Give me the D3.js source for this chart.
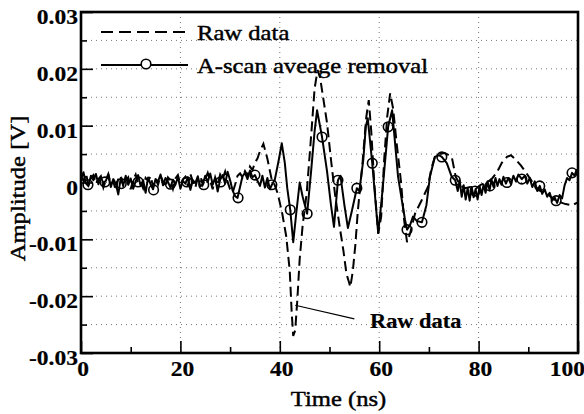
<!DOCTYPE html>
<html><head><meta charset="utf-8">
<script src="https://cdn.jsdelivr.net/npm/d3@7"></script>
<style>html,body{margin:0;padding:0;background:#fff;}svg{display:block;}
svg text{font-family:"Liberation Serif","Times New Roman",Tinos,Times,"DejaVu Serif",serif;}</style>
</head><body>
<div id="chart"></div>
<script>
// ---------------- DATA ----------------
const xTicks = [0, 20, 40, 60, 80, 100];
const xMinorTicks = [10, 30, 50, 70, 90];
const yTicks = [-0.03, -0.02, -0.01, 0, 0.01, 0.02, 0.03];
const yTickLabels = ["-0.03", "-0.02", "-0.01", "0", "0.01", "0.02", "0.03"];
const yMinorTicks = [-0.025, -0.015, -0.005, 0.005, 0.015, 0.025];
const seriesNames = ["Raw data", "A-scan aveage removal"];

// processed (solid) : noise part sampled every 0.5 ns from t = 0
const noiseStep = 0.5;
const solidNoise = [
  0.0005, 0.0018, -0.0002, -0.0006, 0.0012, 0.0004, 0.0015, -0.0003, 0.0009, -0.0001,
  0.0003, 0.0014, -0.0008, 0.0006, -0.0002, -0.0021, 0.0008, -0.0005, 0.0012, -0.0004,
  0.0007, -0.0011, 0.0002, 0.0013, -0.0006, 0.0004, -0.0018, 0.0009, -0.0003, -0.0012,
  0.0006, 0.0002, 0.0014, -0.0005, 0.0008, 0.0001, -0.0009, 0.0005, -0.0004, 0.0010,
  -0.0011, 0.0003, -0.0002, 0.0009, -0.0013, 0.0004, -0.0001, 0.0011, -0.0007, -0.0003,
  0.0012, 0.0001, 0.0016, -0.0004, 0.0008, -0.0016, 0.0005, 0.0013, -0.0002, 0.0019,
  0.0004, -0.0014, -0.0024, -0.0027, -0.0008, 0.0011, 0.0017, 0.0006, 0.0021, 0.0009,
  0.0013, 0.0003, -0.0006, 0.0012, -0.0009, 0.0008, -0.0012
];
const solidMain = [
  [38.4, -0.0004], [39.0, 0.0005], [39.8, 0.004], [40.4, 0.0069], [41.0, 0.0035], [41.5, -0.001],
  [42.1, -0.0048], [42.7, -0.0105], [43.3, -0.0055], [44.0, 0.0], [44.6, -0.0025], [45.5, -0.0055],
  [46.3, 0.002], [47.0, 0.009], [47.5, 0.0127], [48.5, 0.008], [49.5, 0.002], [50.3, -0.004],
  [50.9, -0.0078], [51.7, 0.0004], [52.2, 0.0012], [53.0, -0.004], [53.7, -0.008], [54.5, -0.005],
  [55.5, -0.001], [56.0, -0.0015], [56.8, 0.004], [57.3, 0.0098], [57.7, 0.0113], [58.6, 0.0034],
  [59.8, -0.0089], [60.6, -0.002], [61.8, 0.0098], [62.6, 0.0127], [63.8, 0.001], [65.2, -0.0066],
  [65.6, -0.0083], [66.2, -0.0075], [66.8, -0.006], [67.6, -0.0068], [68.6, -0.007], [69.5, -0.004],
  [70.2, 0.001], [71.2, 0.0045], [72.0, 0.0048], [72.6, 0.0045], [73.6, 0.0034], [74.6, 0.001],
  [75.3, 0.0004], [75.8, -0.0015], [76.2, 0.0003], [76.6, -0.0025], [77.0, -0.0005], [77.4, -0.003],
  [77.8, -0.001], [78.2, -0.0032], [78.6, -0.0008], [79.0, -0.0026], [79.4, -0.0012], [79.8, -0.003],
  [80.2, -0.0006], [80.6, -0.0022], [81.0, -0.0004], [81.4, -0.0018], [81.8, 0.0002], [82.2, -0.0014],
  [82.6, 0.0005], [83.0, -0.0008], [83.4, 0.0008], [83.8, -0.0006], [84.2, 0.0006], [84.6, -0.0004],
  [85.0, 0.001], [85.5, -0.0002], [86.0, 0.0008], [86.5, -0.0003], [87.0, 0.0012], [87.5, 0.0002],
  [88.0, 0.0014], [88.7, 0.0006], [89.3, 0.0012], [89.8, -0.0002], [90.3, 0.0008], [90.8, -0.0008],
  [91.3, 0.0002], [91.8, -0.0015], [92.3, -0.0006], [92.8, -0.002], [93.3, -0.0012], [93.8, -0.0025],
  [94.3, -0.0018], [94.8, -0.0032], [95.3, -0.0026], [95.8, -0.0036], [96.3, -0.0022], [96.8, -0.0028],
  [97.3, -0.0005], [97.8, 0.0008], [98.3, 0.0004], [98.8, 0.0017], [99.3, 0.0012], [99.7, 0.0022],
  [100, 0.002]
];
// raw (dashed): noise part sampled every 0.5 ns from t = 0
const rawNoise = [
  0.0010, 0.0003, 0.0016, -0.0004, 0.0008, 0.0013, -0.0002, 0.0006, 0.0011, -0.0009,
  0.0004, 0.0015, -0.0003, 0.0002, -0.0014, 0.0007, 0.0012, -0.0006, 0.0003, 0.0009,
  -0.0012, 0.0005, 0.0014, -0.0002, 0.0001, -0.0010, 0.0008, 0.0003, 0.0011, -0.0007,
  0.0006, -0.0004, 0.0012, 0.0002, -0.0008, 0.0009, 0.0004, -0.0011, 0.0007, 0.0013,
  -0.0003, 0.0005, 0.0010, -0.0006, 0.0015, 0.0002, -0.0009, 0.0008, 0.0012, -0.0004,
  0.0006, 0.0017, 0.0003, -0.0012, 0.0009, -0.0005, 0.0014, 0.0006, 0.0019, 0.0001,
  -0.0012, -0.0018, -0.0004, 0.0012, 0.0016, 0.0009
];
const rawMain = [
  [33.0, 0.002], [33.5, 0.0012], [34.0, 0.0028], [34.5, 0.0022], [35.0, 0.0035], [35.5, 0.0042],
  [36.0, 0.0055], [36.7, 0.0068], [37.5, 0.0042], [38.3, 0.0008], [39.0, -0.0005], [39.6, -0.002],
  [40.5, -0.0055], [41.3, -0.0095], [42.0, -0.0155], [42.4, -0.023], [42.7, -0.027], [43.1, -0.026],
  [43.5, -0.021], [44.0, -0.0135], [44.6, -0.0075], [45.4, -0.002], [46.2, 0.007], [47.0, 0.0165],
  [47.6, 0.0198], [48.1, 0.0185], [48.8, 0.0145], [49.5, 0.0105], [50.3, 0.004], [51.1, -0.002],
  [52.0, -0.0075], [52.8, -0.012], [53.4, -0.016], [54.2, -0.0184], [54.7, -0.0155], [55.2, -0.011],
  [55.7, -0.005], [56.6, 0.003], [57.4, 0.0115], [57.9, 0.0145], [58.4, 0.009], [59.0, 0.0],
  [59.8, -0.009], [60.4, -0.006], [61.0, 0.004], [61.6, 0.0115], [62.2, 0.0157], [62.8, 0.013],
  [63.5, 0.007], [64.4, 0.0], [65.0, -0.0065], [65.6, -0.0105], [66.2, -0.009], [67.2, -0.0055],
  [68.5, -0.0032], [69.8, -0.0008], [70.5, 0.0025], [71.2, 0.0045], [72.0, 0.005], [73.2, 0.0052],
  [74.6, 0.0045], [75.4, 0.001], [76.3, -0.0005], [77.2, -0.001], [78.3, -0.0008], [79.3, -0.0012],
  [80.4, -0.0004], [81.7, 0.0], [82.8, 0.0008], [83.7, 0.0018], [84.7, 0.0035], [85.7, 0.0045],
  [86.5, 0.0048], [87.5, 0.004], [88.5, 0.003], [89.5, 0.0018], [90.5, 0.0005], [91.5, -0.0008],
  [92.5, -0.0015], [93.5, -0.0018], [94.5, -0.0025], [95.5, -0.0032], [96.5, -0.0035], [97.5, -0.0038],
  [98.8, -0.004], [100, -0.0035]
];
// circle markers on the processed curve
const markers = [
  [1.4, -0.0004], [4.8, 0.0001], [8.1, -0.0002], [11.5, 0.0001], [14.6, -0.0013], [18.0, -0.0003],
  [21.3, 0.0001], [24.7, -0.0004], [28.1, 0.0001], [31.6, -0.0027], [35.0, 0.0013], [38.4, -0.0004],
  [42.1, -0.0048], [45.5, -0.0055], [48.5, 0.008], [51.7, 0.0004], [55.5, -0.001], [58.6, 0.0034],
  [61.8, 0.0098], [65.6, -0.0083], [68.6, -0.007], [72.6, 0.0045], [75.3, 0.0004], [79.3, -0.0015],
  [82.3, -0.0006], [85.7, 0.0], [88.7, 0.0006], [92.3, -0.0006], [95.6, -0.0032], [98.8, 0.0017]
];
// annotation "Raw data" pointer (data coords of the leader line)
const annotText = "Raw data";
const annotFrom = [43.1, -0.0216];
const annotTo = [55.0, -0.0240];

// ---------------- BUILD ----------------
const solid = solidNoise.map((v, i) => [i * noiseStep, v]).concat(solidMain);
const raw = rawNoise.map((v, i) => [i * noiseStep, v]).concat(rawMain);

const W = 584, H = 414;
const M = {left: 81, right: 6, top: 12, bottom: 61};
const SX = 1.12; // horizontal stretch of text in the scan

const svg = d3.select("#chart").append("svg").attr("width", W).attr("height", H);
const x = d3.scaleLinear().domain([0, 100]).range([M.left, W - M.right]);
const y = d3.scaleLinear().domain([-0.03, 0.03]).range([H - M.bottom, M.top]);

function txt(g, s, px, py, size, weight, anchor, rot) {
  return g.append("text")
    .attr("transform", `translate(${px},${py})` + (rot ? ` rotate(${rot})` : "") + ` scale(${SX},1)`)
    .style("font-size", size + "px").style("font-weight", weight)
    .attr("stroke", "#000").attr("stroke-width", weight === "bold" ? 0.2 : 0.45)
    .attr("text-anchor", anchor).attr("fill", "#000").text(s);
}

// grid
const grid = svg.append("g").attr("stroke", "#777").attr("stroke-width", 1).attr("stroke-dasharray", "1,4");
grid.selectAll("line.h").data(yTicks.concat(yMinorTicks).filter(v => v > -0.03 && v < 0.03)).join("line")
  .attr("x1", x(0)).attr("x2", x(100)).attr("y1", d => y(d)).attr("y2", d => y(d));
grid.selectAll("line.v").data(xTicks.filter(v => v > 0 && v < 100)).join("line")
  .attr("y1", y(-0.03)).attr("y2", y(0.03)).attr("x1", d => x(d)).attr("x2", d => x(d));

// clip
svg.append("clipPath").attr("id", "clip").append("rect")
  .attr("x", x(0)).attr("y", y(0.03)).attr("width", x(100) - x(0)).attr("height", y(-0.03) - y(0.03));

const line = d3.line().x(d => x(d[0])).y(d => y(d[1]));
const plot = svg.append("g").attr("clip-path", "url(#clip)");
plot.append("path").datum(raw).attr("d", line).attr("fill", "none").attr("stroke", "#000")
  .attr("stroke-width", 2).attr("stroke-dasharray", "10,5");
plot.append("path").datum(solid).attr("d", line).attr("fill", "none").attr("stroke", "#000")
  .attr("stroke-width", 2).attr("stroke-linejoin", "round");
plot.selectAll("circle").data(markers).join("circle")
  .attr("cx", d => x(d[0])).attr("cy", d => y(d[1])).attr("r", 4.8)
  .attr("fill", "none").attr("stroke", "#000").attr("stroke-width", 1.6);

// axes: inward ticks
const xAxis = d3.axisBottom(x).tickValues(xTicks).tickSize(-12).tickFormat("");
const xAxisMinor = d3.axisBottom(x).tickValues(xMinorTicks).tickSize(-6).tickFormat("");
const yAxis = d3.axisLeft(y).tickValues(yTicks).tickSize(-12).tickFormat("");
const yAxisMinor = d3.axisLeft(y).tickValues(yMinorTicks).tickSize(-6).tickFormat("");
[[xAxis, `translate(0,${y(-0.03)})`], [xAxisMinor, `translate(0,${y(-0.03)})`],
 [yAxis, `translate(${x(0)},0)`], [yAxisMinor, `translate(${x(0)},0)`]].forEach(([ax, tr]) => {
  const g = svg.append("g").attr("transform", tr).call(ax);
  g.select(".domain").remove();
  g.selectAll(".tick line").attr("stroke", "#000").attr("stroke-width", 1.6);
});

// frame
svg.append("rect").attr("x", x(0)).attr("y", y(0.03)).attr("width", x(100) - x(0))
  .attr("height", y(-0.03) - y(0.03)).attr("fill", "none").attr("stroke", "#000").attr("stroke-width", 2.6);

// tick labels
xTicks.forEach((t, i) => {
  const last = i === xTicks.length - 1;
  txt(svg, String(t), last ? W + 1 : x(t) + 2, 376, 21, "bold", last ? "end" : "middle");
});
yTicks.forEach((t, i) => {
  txt(svg, yTickLabels[i], x(0) - 3, y(t) + 12, 21, "bold", "end");
});

// axis titles
txt(svg, "Time (ns)", (x(0) + x(100)) / 2 + 9, 406, 22, "normal", "middle");
txt(svg, "Amplitude [V]", 25, (y(-0.03) + y(0.03)) / 2 + 6, 22, "normal", "middle", -90);

// legend
const lg = svg.append("g");
lg.append("line").attr("x1", 101).attr("x2", 188).attr("y1", 32).attr("y2", 32)
  .attr("stroke", "#000").attr("stroke-width", 2).attr("stroke-dasharray", "12,6");
txt(lg, seriesNames[0], 197, 40, 22, "normal", "start");
lg.append("line").attr("x1", 101).attr("x2", 188).attr("y1", 65).attr("y2", 65)
  .attr("stroke", "#000").attr("stroke-width", 2);
lg.append("circle").attr("cx", 146).attr("cy", 64).attr("r", 4.8)
  .attr("fill", "#fff").attr("stroke", "#000").attr("stroke-width", 1.6);
txt(lg, seriesNames[1], 197, 73, 22, "normal", "start");

// annotation
svg.append("line").attr("x1", x(annotFrom[0])).attr("y1", y(annotFrom[1]))
  .attr("x2", x(annotTo[0])).attr("y2", y(annotTo[1])).attr("stroke", "#000").attr("stroke-width", 1.2);
txt(svg, annotText, 370, 328, 20, "bold", "start");
</script>
</body></html>
